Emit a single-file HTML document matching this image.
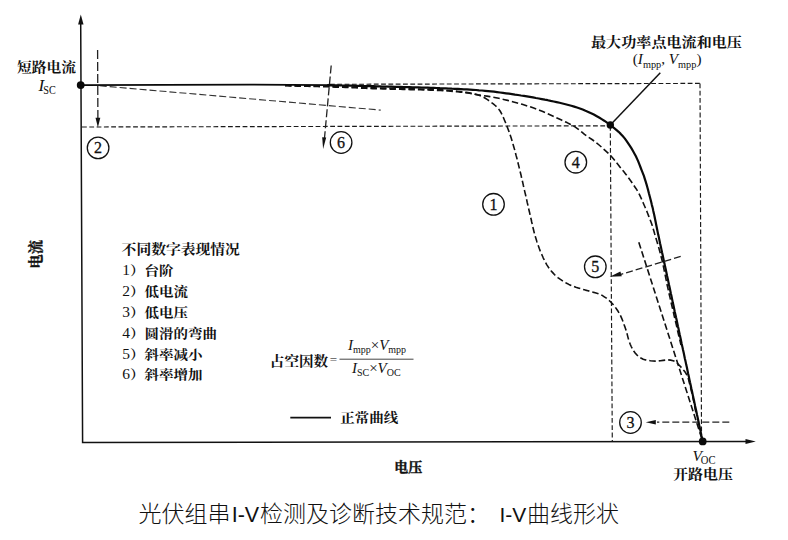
<!DOCTYPE html>
<html lang="zh">
<head>
<meta charset="utf-8">
<title>I-V曲线形状</title>
<style>
html,body{margin:0;padding:0;background:#fff;}
body{width:788px;height:540px;overflow:hidden;position:relative;}
svg{position:absolute;left:0;top:0;display:block;}
.cn{font-family:"Liberation Serif","Noto Serif CJK SC",serif;font-weight:700;fill:#111;}
.lat{font-family:"Liberation Serif",serif;fill:#111;}
.cap{font-family:"Liberation Sans","Noto Sans CJK SC",sans-serif;font-weight:300;fill:#111;}
.ax{stroke:#111;stroke-width:1.5;fill:none;}
.main{stroke:#0a0a0a;stroke-width:2.2;fill:none;stroke-linecap:round;stroke-linejoin:round;}
.d{stroke:#1a1a1a;stroke-width:1.15;fill:none;stroke-dasharray:4.8 2.5;}
.dc{stroke:#111;stroke-width:1.6;fill:none;stroke-dasharray:6.5 3;stroke-linejoin:round;}
.dl{stroke:#222;stroke-width:1.3;fill:none;stroke-dasharray:7 3;}
.circ{stroke:#111;stroke-width:1.3;fill:#fff;}
.num{font-family:"Liberation Serif",serif;font-size:16px;fill:#111;text-anchor:middle;stroke:#111;stroke-width:0.3;}
</style>
</head>
<body>
<svg width="788" height="540" viewBox="0 0 788 540">
<rect width="788" height="540" fill="#fff"/>

<!-- thin dashed reference lines -->
<g class="d">
<path d="M330 84.3 L700 83.4"/>
<path d="M700 83.4 L701.5 432"/>
<path d="M82 127 L610.5 125.8"/>
<path d="M610.3 126 L612.3 441.5"/>
</g>

<!-- axes -->
<path class="ax" d="M80.7 22 L82.6 442.4 L748 441.5"/>
<path d="M80.8 14.4 L78.1 24.6 L83.5 24.6 Z" fill="#111"/>
<path d="M755.8 441.4 L745.5 439 L745.5 443.9 Z" fill="#111"/>

<!-- dashed variant curves -->
<path d="M99.7 85.8 L380.7 110.1" stroke="#333" stroke-width="1.1" fill="none" stroke-dasharray="7 3"/>
<path class="dc" d="M285.0 85.8 L287.5 85.8 L290.0 85.9 L292.5 85.9 L295.0 86.0 L297.6 86.1 L300.1 86.1 L302.6 86.2 L305.1 86.2 L307.6 86.3 L310.1 86.4 L312.6 86.4 L315.1 86.5 L317.6 86.5 L320.2 86.6 L322.7 86.7 L325.2 86.8 L327.7 86.8 L330.2 86.9 L332.7 87.0 L335.2 87.1 L337.7 87.2 L340.2 87.2 L342.8 87.3 L345.3 87.4 L347.8 87.5 L350.3 87.6 L352.8 87.7 L355.3 87.8 L357.8 87.9 L360.3 88.1 L362.8 88.2 L365.3 88.3 L367.9 88.4 L370.4 88.5 L372.9 88.6 L375.4 88.6 L377.9 88.7 L380.4 88.8 L382.9 88.9 L385.4 89.0 L387.9 89.0 L390.5 89.1 L393.0 89.2 L395.5 89.2 L398.0 89.3 L400.5 89.3 L403.0 89.4 L405.5 89.5 L408.0 89.5 L410.6 89.6 L413.1 89.6 L415.6 89.7 L418.1 89.7 L420.6 89.8 L423.1 89.9 L425.6 90.0 L428.1 90.0 L430.6 90.1 L433.1 90.2 L435.7 90.3 L438.2 90.4 L440.7 90.5 L443.2 90.7 L445.7 90.8 L448.2 91.0 L450.7 91.2 L453.2 91.4 L455.7 91.6 L458.2 91.8 L460.7 92.1 L463.2 92.4 L465.7 92.7 L468.2 93.0 L470.7 93.4 L473.2 93.9 L475.7 94.4 L478.1 95.0 L480.4 95.8 L482.7 96.8 L484.9 98.0 L487.1 99.4 L489.2 100.8 L491.2 102.3 L493.3 103.8 L495.2 105.5 L497.1 107.2 L498.7 109.1 L500.1 111.0 L501.3 113.2 L502.4 115.5 L503.5 117.8 L504.5 120.2 L505.5 122.5 L506.4 124.8 L507.3 127.1 L508.2 129.5 L509.1 131.9 L509.9 134.2 L510.7 136.6 L511.5 139.0 L512.2 141.4 L512.9 143.8 L513.6 146.2 L514.3 148.6 L515.0 151.1 L515.6 153.5 L516.2 155.9 L516.9 158.3 L517.5 160.8 L518.1 163.2 L518.7 165.6 L519.3 168.1 L519.9 170.5 L520.5 173.0 L521.1 175.4 L521.6 177.9 L522.2 180.3 L522.8 182.8 L523.3 185.2 L523.9 187.7 L524.4 190.1 L525.0 192.6 L525.6 195.0 L526.1 197.5 L526.7 199.9 L527.2 202.4 L527.8 204.8 L528.3 207.3 L528.9 209.7 L529.5 212.2 L530.0 214.6 L530.6 217.1 L531.2 219.5 L531.7 222.0 L532.3 224.4 L532.8 226.9 L533.4 229.3 L534.0 231.8 L534.6 234.2 L535.3 236.6 L536.1 239.0 L536.8 241.4 L537.6 243.8 L538.5 246.2 L539.3 248.5 L540.2 250.9 L541.2 253.2 L542.2 255.5 L543.2 257.8 L544.3 260.1 L545.5 262.4 L546.7 264.6 L548.0 266.6 L549.4 268.7 L551.0 270.7 L552.7 272.6 L554.4 274.5 L556.3 276.2 L558.2 277.8 L560.1 279.2 L562.2 280.6 L564.4 282.0 L566.6 283.2 L568.9 284.4 L571.2 285.4 L573.5 286.4 L575.8 287.3 L578.2 288.0 L580.6 288.7 L583.0 289.4 L585.5 290.1 L587.9 290.7 L590.3 291.4 L592.8 292.1 L595.2 292.7 L597.6 293.4 L600.0 294.3 L602.2 295.4 L604.3 296.8 L606.4 298.2 L608.3 299.8 L610.2 301.5 L612.0 303.3 L613.6 305.2 L615.2 307.1 L616.7 309.2 L618.1 311.3 L619.4 313.5 L620.5 315.7 L621.5 317.9 L622.5 320.3 L623.4 322.6 L624.2 325.0 L625.1 327.4 L625.9 329.8 L626.6 332.2 L627.3 334.6 L627.9 337.1 L628.6 339.5 L629.4 341.9 L630.2 344.2 L631.2 346.5 L632.4 348.8 L633.7 351.1 L635.2 353.1 L636.8 354.8 L638.7 356.4 L640.9 358.0 L643.2 359.2 L645.6 359.9 L647.9 360.3 L650.4 360.7 L653.0 361.0 L655.5 361.1 L658.0 361.0 L660.5 360.7 L663.1 360.4 L665.6 360.1 L668.0 359.9 L670.6 360.1 L673.1 360.7 L675.3 361.5 L677.3 363.2 L679.0 365.0 L680.8 366.9 L682.5 368.8 L684.1 370.8 L685.6 372.8 L686.9 375.0 L687.8 377.2 L688.6 379.6 L689.2 382.1 L689.8 384.5 L690.4 387.0 L691.0 389.4 L691.6 391.8 L692.1 394.3 L692.7 396.7 L693.2 399.2 L693.8 401.6 L694.3 404.1 L694.8 406.6 L695.2 409.0 L695.7 411.5 L696.1 414.0"/>
<path class="dc" d="M285.0 85.5 L288.0 85.5 L291.0 85.6 L294.1 85.6 L297.1 85.7 L300.1 85.7 L303.1 85.7 L306.2 85.8 L309.2 85.9 L312.2 85.9 L315.2 86.0 L318.2 86.0 L321.3 86.1 L324.3 86.2 L327.3 86.2 L330.3 86.3 L333.3 86.4 L336.4 86.5 L339.4 86.6 L342.4 86.7 L345.4 86.8 L348.4 86.9 L351.5 87.0 L354.5 87.1 L357.5 87.2 L360.5 87.3 L363.5 87.4 L366.6 87.5 L369.6 87.6 L372.6 87.7 L375.6 87.9 L378.6 88.0 L381.7 88.1 L384.7 88.1 L387.7 88.2 L390.7 88.3 L393.8 88.4 L396.8 88.5 L399.8 88.5 L402.8 88.6 L405.8 88.7 L408.9 88.7 L411.9 88.8 L414.9 88.9 L417.9 89.0 L421.0 89.1 L424.0 89.2 L427.0 89.3 L430.0 89.4 L433.0 89.5 L436.0 89.6 L439.1 89.8 L442.1 89.9 L445.1 90.1 L448.1 90.3 L451.1 90.6 L454.1 90.9 L457.1 91.2 L460.1 91.6 L463.1 92.0 L466.1 92.4 L469.1 92.9 L472.0 93.6 L475.0 94.2 L478.0 94.8 L480.9 95.3 L483.9 95.7 L486.9 96.1 L489.9 96.6 L492.9 97.1 L495.9 97.7 L498.8 98.3 L501.8 99.0 L504.7 99.7 L507.7 100.4 L510.6 101.1 L513.5 101.9 L516.4 102.7 L519.3 103.5 L522.2 104.3 L525.1 105.2 L528.0 106.2 L530.9 107.1 L533.7 108.1 L536.6 109.1 L539.4 110.2 L542.2 111.3 L545.0 112.5 L547.7 113.7 L550.5 115.0 L553.2 116.2 L556.0 117.5 L558.7 118.8 L561.5 120.1 L564.2 121.3 L567.0 122.6 L569.7 124.0 L572.4 125.4 L575.0 126.9 L577.4 128.6 L579.8 130.4 L582.2 132.4 L584.5 134.3 L587.0 136.1 L589.5 137.8 L592.0 139.5 L594.4 141.2 L596.8 143.1 L599.1 145.0 L601.4 147.0 L603.6 149.0 L605.9 151.1 L608.1 153.1 L610.2 155.2 L612.3 157.5 L614.2 159.8 L616.1 162.2 L618.0 164.5 L619.9 166.9 L621.8 169.2 L623.7 171.5 L625.6 173.9 L627.4 176.3 L629.2 178.8 L631.0 181.2 L632.7 183.7 L634.4 186.2 L636.1 188.7 L637.7 191.3 L639.1 193.9 L640.4 196.7 L641.7 199.4 L642.9 202.2 L644.1 205.0 L645.3 207.7 L646.5 210.5 L647.6 213.3 L648.7 216.1 L649.8 218.9 L650.9 221.8 L651.9 224.6 L652.8 227.5 L653.7 230.4 L654.5 233.3 L655.4 236.2 L656.2 239.1 L657.1 242.0 L657.9 244.9 L658.8 247.8 L659.6 250.7 L660.4 253.6 L661.1 256.6 L661.9 259.5 L662.5 262.4 L663.2 265.4 L663.8 268.3 L664.4 271.3 L665.0 274.3 L665.6 277.2 L666.2 280.2 L666.8 283.2 L667.4 286.1 L668.1 289.1 L668.7 292.0 L669.4 295.0 L670.1 297.9 L670.7 300.8 L671.4 303.8 L672.1 306.7 L672.8 309.7 L673.5 312.6 L674.1 315.6 L674.8 318.5 L675.5 321.5 L676.2 324.4 L676.9 327.3 L677.5 330.3 L678.2 333.2 L678.9 336.2 L679.6 339.1 L680.3 342.1 L681.0 345.0"/>
<path class="dc" d="M638.8 242.2 L702.7 441.4"/>

<!-- arrows with dashed shafts -->
<path class="dl" style="stroke-dasharray:9 3" d="M97.6 50 L97.9 119"/>
<path d="M97.9 127.5 L95.5 117.8 L100.3 117.8 Z" fill="#111"/>
<path class="dl" style="stroke-dasharray:8 3" d="M331.2 65.5 L324.4 139"/>
<path d="M323.1 149.1 L322.2 137.3 L326.2 137.6 Z" fill="#111"/>
<path class="dl" d="M680.7 256.4 L621 274.3"/>
<path d="M609.7 276.8 L620.4 271.4 L621.8 276.2 Z" fill="#111"/>
<path class="dl" d="M729.3 422.1 L657 422.1"/>
<path d="M645.7 422.2 L655.8 420 L655.8 424.4 Z" fill="#111"/>

<!-- main curve -->
<path class="main" style="stroke-width:1.8" d="M81 85.2 L250 84.6 L290 84.9 L331 85.2"/>
<path class="main" d="M328.0 85.2 L331.0 85.3 L334.0 85.3 L337.1 85.4 L340.1 85.5 L343.1 85.5 L346.1 85.6 L349.1 85.7 L352.2 85.7 L355.2 85.8 L358.2 85.9 L361.2 85.9 L364.3 86.0 L367.3 86.1 L370.3 86.2 L373.3 86.2 L376.3 86.3 L379.4 86.4 L382.4 86.5 L385.4 86.5 L388.4 86.6 L391.4 86.7 L394.5 86.8 L397.5 86.9 L400.5 86.9 L403.5 87.0 L406.5 87.1 L409.6 87.2 L412.6 87.3 L415.6 87.4 L418.6 87.4 L421.6 87.5 L424.7 87.6 L427.7 87.7 L430.7 87.8 L433.7 87.9 L436.7 88.0 L439.8 88.2 L442.8 88.3 L445.8 88.4 L448.8 88.5 L451.8 88.7 L454.9 88.8 L457.9 88.9 L460.9 89.1 L463.9 89.3 L466.9 89.4 L469.9 89.6 L473.0 89.8 L476.0 90.0 L479.0 90.3 L482.0 90.5 L485.0 90.8 L488.0 91.1 L491.0 91.4 L494.0 91.7 L497.0 92.1 L500.0 92.5 L503.0 92.9 L506.0 93.3 L509.0 93.7 L512.0 94.1 L515.0 94.6 L518.0 95.0 L521.0 95.5 L523.9 95.9 L526.9 96.4 L529.9 96.9 L532.9 97.4 L535.9 98.0 L538.8 98.5 L541.8 99.1 L544.8 99.7 L547.7 100.2 L550.7 100.9 L553.7 101.5 L556.6 102.1 L559.6 102.8 L562.5 103.5 L565.5 104.2 L568.4 105.0 L571.3 105.8 L574.2 106.6 L577.0 107.5 L579.9 108.5 L582.7 109.6 L585.5 110.8 L588.3 111.9 L591.1 113.2 L593.8 114.5 L596.4 116.0 L599.1 117.5 L601.7 119.1 L604.2 120.7 L606.7 122.4 L609.2 124.1 L611.6 126.0 L613.9 127.8 L616.3 129.8 L618.6 131.8 L620.7 133.9 L622.7 136.1 L624.7 138.4 L626.5 140.8 L628.2 143.3 L629.9 145.9 L631.5 148.4 L633.0 151.0 L634.5 153.7 L635.9 156.3 L637.2 159.1 L638.4 161.8 L639.5 164.7 L640.6 167.5 L641.7 170.3 L642.8 173.1 L643.9 175.9 L644.8 178.8 L645.7 181.7 L646.6 184.6 L647.4 187.5 L648.2 190.4 L648.9 193.3 L649.7 196.3 L650.5 199.2 L651.2 202.1 L651.9 205.1 L652.7 208.0 L653.3 210.9 L654.0 213.9 L654.6 216.8 L655.2 219.8 L655.8 222.8 L656.4 225.7 L657.0 228.7 L657.6 231.6 L658.2 234.6 L658.9 237.6 L659.5 240.5 L660.1 243.5 L660.8 246.4 L661.4 249.4 L662.0 252.3 L662.7 255.3 L663.3 258.2 L663.9 261.2 L664.6 264.1 L665.2 267.1 L665.9 270.1 L666.5 273.0 L667.1 276.0 L667.8 278.9 L668.4 281.9 L669.0 284.8 L669.7 287.8 L670.3 290.7 L670.9 293.7 L671.6 296.6 L672.2 299.6 L672.8 302.6 L673.5 305.5 L674.1 308.5 L674.7 311.4 L675.4 314.4 L676.0 317.3 L676.7 320.3 L677.3 323.2 L677.9 326.2 L678.6 329.1 L679.2 332.1 L679.8 335.0 L680.5 338.0 L681.1 341.0 L681.7 343.9 L682.4 346.9 L683.0 349.8 L683.7 352.8 L684.3 355.7 L684.9 358.7 L685.6 361.6 L686.2 364.6 L686.9 367.5 L687.5 370.5 L688.1 373.4 L688.8 376.4 L689.4 379.4 L690.0 382.3 L690.7 385.3 L691.3 388.2 L692.0 391.2 L692.6 394.1 L693.2 397.1 L693.9 400.0 L694.5 403.0 L695.1 405.9 L695.8 408.9 L696.4 411.8 L697.0 414.8 L697.7 417.8 L698.3 420.7 L698.9 423.7 L699.5 426.6 L700.2 429.6 L700.8 432.5 L701.4 435.5 L702.1 438.4 L702.7 441.4"/>

<!-- leader line -->
<path d="M660.3 72.8 L610.8 124.6" stroke="#111" stroke-width="1.5" fill="none"/>

<!-- dots -->
<circle cx="80.7" cy="85.1" r="3.9" fill="#0a0a0a"/>
<circle cx="610.3" cy="125" r="3.7" fill="#0a0a0a"/>
<circle cx="702.7" cy="441.4" r="3.9" fill="#0a0a0a"/>

<!-- numbered circles -->
<circle class="circ" cx="493.5" cy="204.3" r="10.8"/><text class="num" x="493.5" y="209.7">1</text>
<circle class="circ" cx="98.1" cy="147.9" r="10.8"/><text class="num" x="98.1" y="153.3">2</text>
<circle class="circ" cx="630.5" cy="422.5" r="10.8"/><text class="num" x="630.5" y="427.9">3</text>
<circle class="circ" cx="575.8" cy="162.2" r="10.8"/><text class="num" x="575.8" y="167.6">4</text>
<circle class="circ" cx="595.3" cy="266.8" r="10.8"/><text class="num" x="595.3" y="272.2">5</text>
<circle class="circ" cx="341.1" cy="142.5" r="10.8"/><text class="num" x="341.1" y="147.9">6</text>

<!-- labels -->
<text class="cn" transform="translate(17.0 67.2) scale(1 0.90)" y="5.00" font-size="14.8">短路电流</text>
<text class="lat" x="38.6" y="90.8" font-size="17" font-style="italic">I</text>
<text class="lat" transform="translate(43.3 93.7) scale(0.85 1)" font-size="12">SC</text>
<text class="cn" transform="translate(591.0 42.5) scale(1 0.90)" y="5.10" font-size="15.1">最大功率点电流和电压</text>
<text class="lat" transform="translate(632.8 64.4) scale(1.0 1)" font-size="15.2">(<tspan font-style="italic">I</tspan><tspan font-size="10.3" dy="3.3">mpp</tspan><tspan dy="-3.3">, </tspan><tspan font-style="italic">V</tspan><tspan font-size="10.3" dy="3.3">mpp</tspan><tspan dy="-3.3">)</tspan></text>
<text class="cn" transform="translate(35.7 254.3) rotate(-90)" y="4.85" font-size="14.3" text-anchor="middle" stroke="#111" stroke-width="0.35">电流</text>
<text class="cn" x="408.3" y="472" font-size="14.1" text-anchor="middle" stroke="#111" stroke-width="0.35">电压</text>
<text class="lat" x="692.5" y="460.6" font-size="15.5" font-style="italic">V</text>
<text class="lat" transform="translate(700.8 464.1) scale(0.92 1)" font-size="11.5">OC</text>
<text class="cn" transform="translate(673.0 474.7) scale(1 0.90)" y="5.07" font-size="15.0">开路电压</text>
<text class="cn" transform="translate(121.6 249.5) scale(1 0.90)" y="5.00" font-size="14.8">不同数字表现情况</text>
<text class="cn" transform="translate(122.3 270.3) scale(1 0.90)" y="4.90" font-size="14.5"><tspan font-weight="400" font-size="15.5">1</tspan>）台阶</text>
<text class="cn" transform="translate(122.3 291.3) scale(1 0.90)" y="4.90" font-size="14.5"><tspan font-weight="400" font-size="15.5">2</tspan>）低电流</text>
<text class="cn" transform="translate(122.3 312.4) scale(1 0.90)" y="4.90" font-size="14.5"><tspan font-weight="400" font-size="15.5">3</tspan>）低电压</text>
<text class="cn" transform="translate(122.3 333.3) scale(1 0.90)" y="4.90" font-size="14.5"><tspan font-weight="400" font-size="15.5">4</tspan>）圆滑的弯曲</text>
<text class="cn" transform="translate(122.3 354.3) scale(1 0.90)" y="4.90" font-size="14.5"><tspan font-weight="400" font-size="15.5">5</tspan>）斜率减小</text>
<text class="cn" transform="translate(122.3 374.8) scale(1 0.90)" y="4.90" font-size="14.5"><tspan font-weight="400" font-size="15.5">6</tspan>）斜率增加</text>
<text class="cn" transform="translate(269.8 361.5) scale(1 0.90)" y="4.93" font-size="14.6">占空因数</text>
<text class="lat" x="329.8" y="363.6" font-size="13" style="fill:#555">=</text>
<path d="M339.5 359.2 L413.5 359.2" stroke="#444" stroke-width="1" fill="none"/>
<text class="lat" x="347.9" y="350.2" font-size="15"><tspan font-style="italic">I</tspan><tspan font-size="10" dy="3">mpp</tspan><tspan dy="-3" font-size="15">×</tspan><tspan font-style="italic">V</tspan><tspan font-size="10" dy="3">mpp</tspan></text>
<text class="lat" x="351.9" y="373.3" font-size="15"><tspan font-style="italic">I</tspan><tspan font-size="10" dy="3">SC</tspan><tspan dy="-3" font-size="15">×</tspan><tspan font-style="italic">V</tspan><tspan font-size="10" dy="3">OC</tspan></text>
<path d="M290.3 417.6 L331 417.6" stroke="#111" stroke-width="1.6" fill="none"/>
<text class="cn" transform="translate(340.3 417.8) scale(1 0.90)" y="4.90" font-size="14.5">正常曲线</text>
<text class="cap" x="138.5" y="522" font-size="23">光伏组串<tspan font-size="21.5" dx="1.2">I-V</tspan><tspan dx="0.8">检测及诊断技术规范：</tspan><tspan font-size="21" dx="9.5">I-V</tspan><tspan dx="0.6">曲线形状</tspan></text>
</svg>
</body>
</html>
